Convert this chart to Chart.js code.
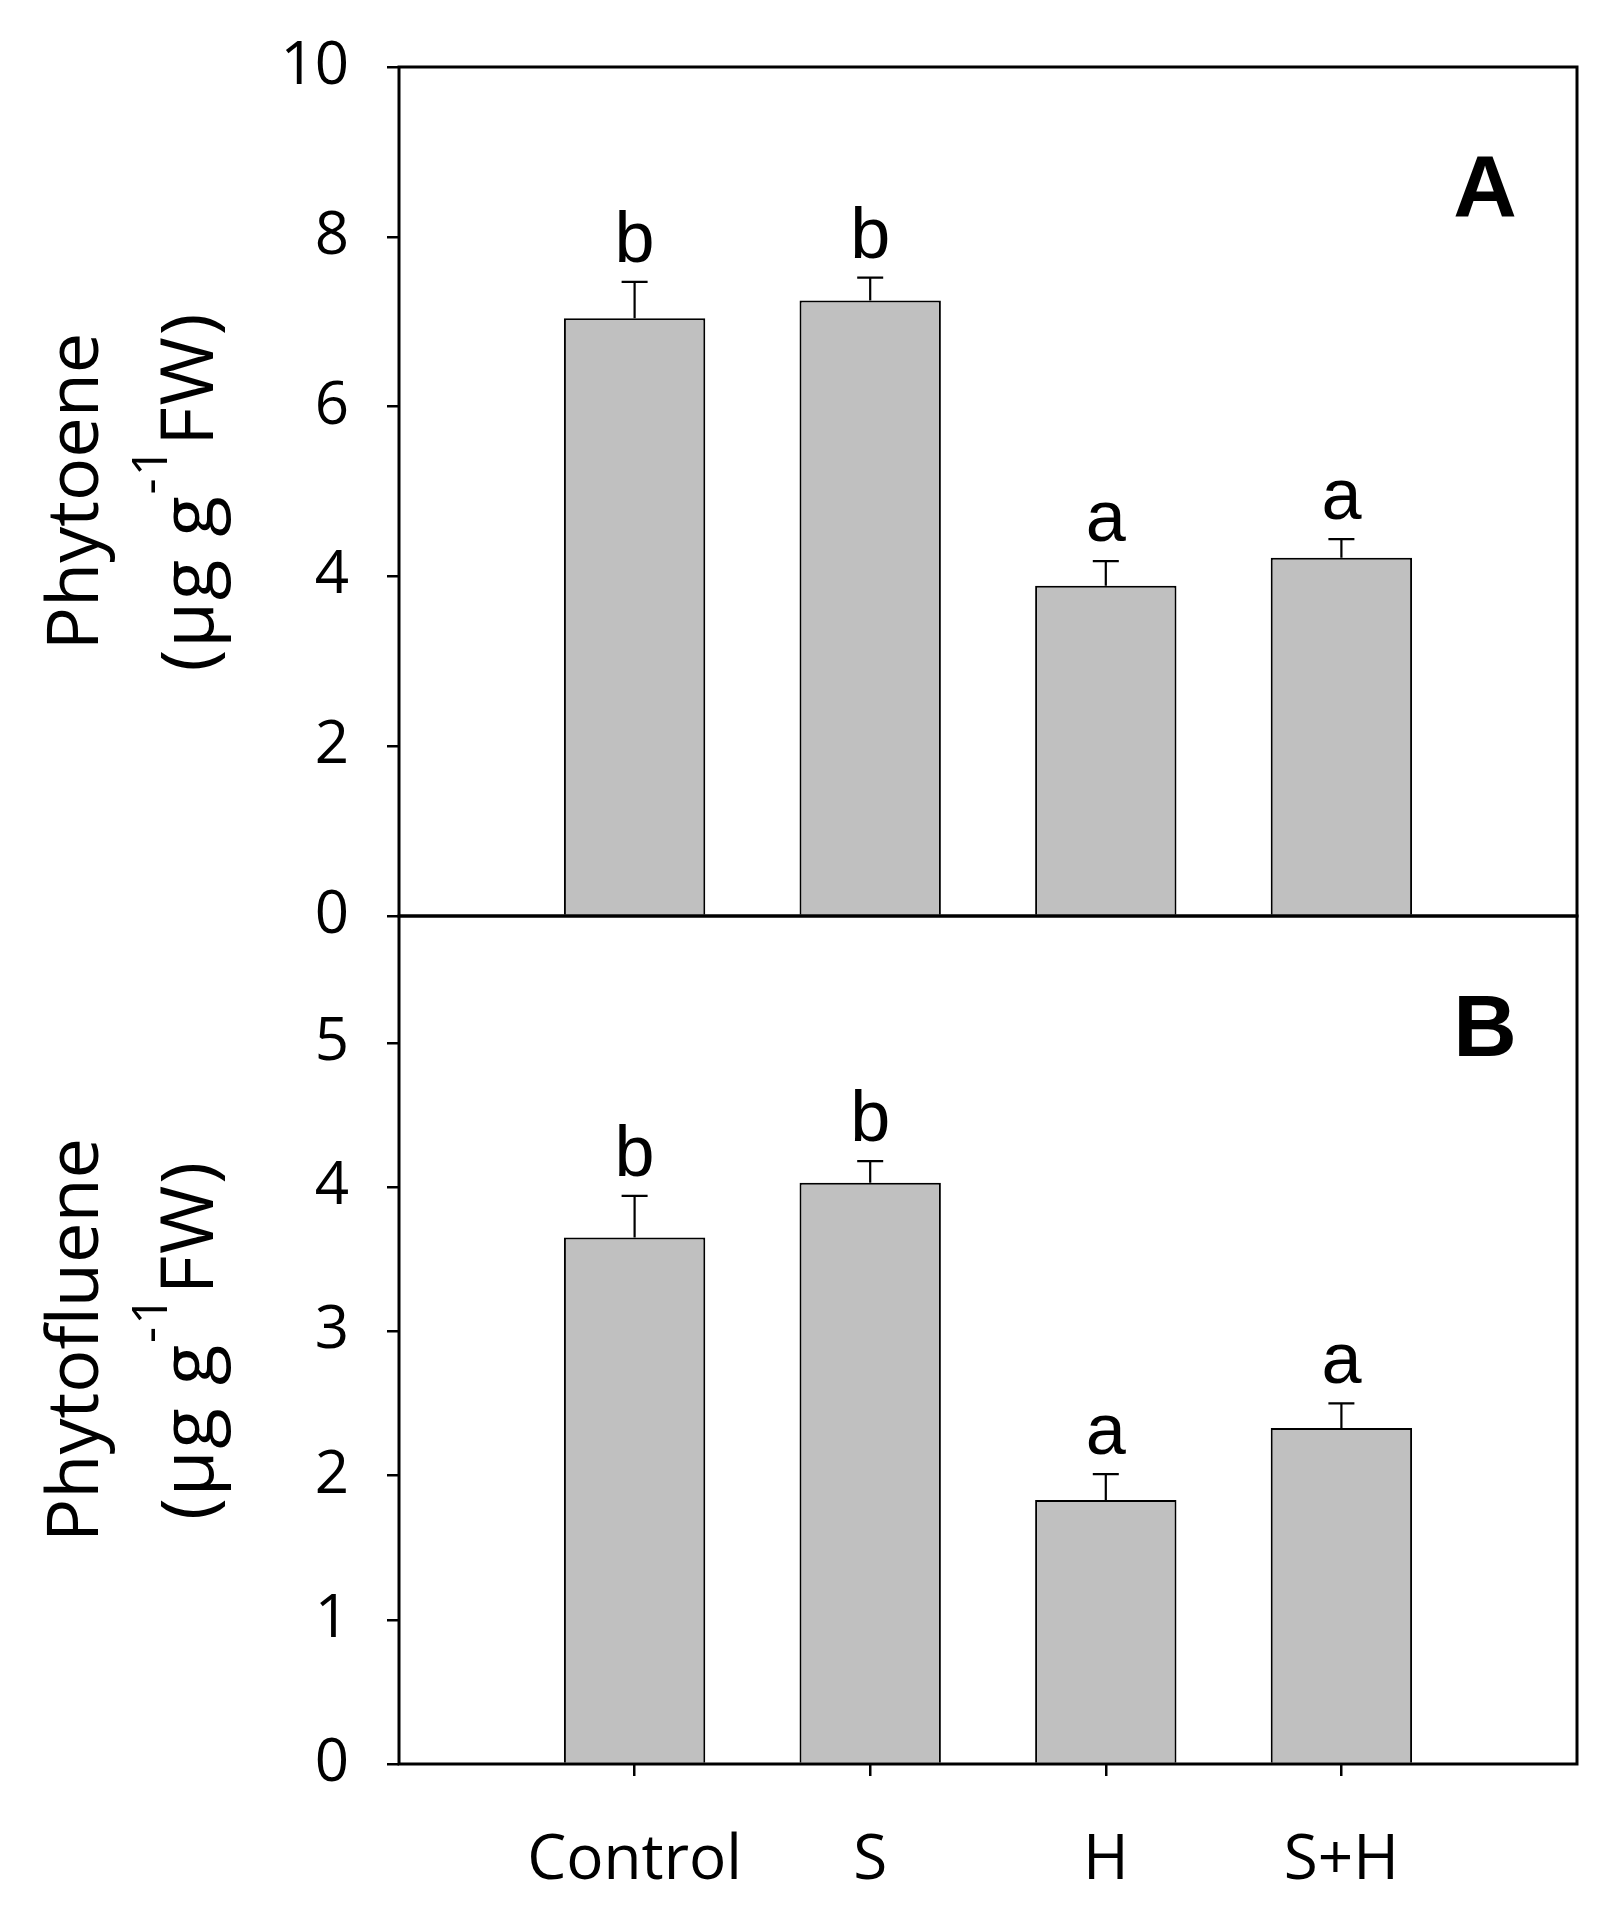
<!DOCTYPE html>
<html>
<head>
<meta charset="utf-8">
<script src="https://cdn.jsdelivr.net/npm/chart.js@4.4.0/dist/chart.umd.min.js"></script>
<style>
  html, body { margin: 0; padding: 0; background: #fff; }
  #wrap { position: relative; width: 1622px; height: 1925px; }
  #wrap canvas { position: absolute; left: 0; top: 0; }
</style>
</head>
<body>
<div id="wrap">
  <canvas id="chartA" width="1622" height="1925"></canvas>
  <canvas id="chartB" width="1622" height="1925"></canvas>
</div>
<script>
// data
var categories = ['Control', 'S', 'H', 'S+H'];
var phytoene = [7.04, 7.25, 3.89, 4.22];
var phytoeneErr = [0.43, 0.27, 0.29, 0.22];
var phytoeneLetters = ['b', 'b', 'a', 'a'];
var phytofluene = [3.65, 4.03, 1.83, 2.33];
var phytoflueneErr = [0.29, 0.15, 0.18, 0.17];
var phytoflueneLetters = ['b', 'b', 'a', 'a'];
var yMaxA = 10, yStepA = 2;
var yMaxB = 5.88, yStepB = 1;

// frame geometry
var W = 1622, H = 1925;
var PLOT_LEFT = 399, PLOT_RIGHT = 1577;
var A_TOP = 67, MID = 916, B_BOTTOM = 1764;

Chart.defaults.font.family = "'Open Sans', sans-serif";
Chart.defaults.color = '#000';

// empty slots on both ends so the bars sit where the original puts them
var xLabels = [''].concat(categories, ['']);
function pad(arr) { return [null].concat(arr, [null]); }

function drawYTitle(ctx, name, cy) {
  ctx.save();
  ctx.fillStyle = '#000';
  ctx.textBaseline = 'alphabetic';

  ctx.save();
  ctx.translate(98, cy);
  ctx.rotate(-Math.PI / 2);
  ctx.font = "72px 'Open Sans'";
  ctx.textAlign = 'center';
  ctx.fillText(name, 0, 0);
  ctx.restore();

  var parts = [
    { t: '(\u03bcg g', size: 74, rise: 0 },
    { t: '-1', size: 50, rise: 46 },
    { t: 'FW)', size: 74, rise: 0 }
  ];
  ctx.letterSpacing = '2px';
  var total = 0;
  parts.forEach(function (p) {
    ctx.font = p.size + "px 'Open Sans'";
    p.w = ctx.measureText(p.t).width;
    total += p.w;
  });
  ctx.save();
  ctx.translate(213, cy);
  ctx.rotate(-Math.PI / 2);
  ctx.textAlign = 'left';
  var x = -total / 2;
  parts.forEach(function (p) {
    ctx.font = p.size + "px 'Open Sans'";
    ctx.fillText(p.t, x, -p.rise);
    x += p.w;
  });
  ctx.restore();
  ctx.letterSpacing = '0px';
  ctx.restore();
}

function panelPlugin(opts) {
  return {
    id: 'panelExtras',
    afterDatasetsDraw: function (chart) {
      var ctx = chart.ctx;
      var area = chart.chartArea;
      var y = chart.scales.y;
      var meta = chart.getDatasetMeta(0);

      ctx.save();
      // error bars (upper half only) and significance letters
      ctx.strokeStyle = '#000';
      ctx.lineWidth = 2.2;
      ctx.fillStyle = '#000';
      ctx.font = "72px 'Liberation Sans', Arial, sans-serif";
      ctx.textAlign = 'center';
      ctx.textBaseline = 'alphabetic';
      opts.values.forEach(function (v, i) {
        var bar = meta.data[i + 1];
        var top = y.getPixelForValue(v);
        var cap = y.getPixelForValue(v + opts.errors[i]);
        ctx.beginPath();
        ctx.moveTo(bar.x, top);
        ctx.lineTo(bar.x, cap);
        ctx.moveTo(bar.x - 13, cap);
        ctx.lineTo(bar.x + 13, cap);
        ctx.stroke();
        ctx.fillText(opts.letters[i], bar.x, cap - 20);
      });

      // box around the panel
      ctx.lineWidth = 3;
      ctx.strokeRect(area.left, area.top, area.right - area.left, area.bottom - area.top);

      // panel letter
      ctx.font = "bold 88px 'Liberation Sans', Arial, sans-serif";
      ctx.fillText(opts.panel, 1485, opts.panelY);
      ctx.restore();

      drawYTitle(ctx, opts.title, (area.top + area.bottom) / 2);
    }
  };
}

function tickColor(c) {
  return (c.index === 0 || c.index === xLabels.length - 1) ? 'rgba(0,0,0,0)' : '#000';
}

function makeChart(id, values, errors, letters, opts) {
  return new Chart(document.getElementById(id), {
    type: 'bar',
    data: {
      labels: xLabels,
      datasets: [{
        data: pad(values),
        backgroundColor: '#c0c0c0',
        borderColor: '#000',
        borderWidth: 2,
        categoryPercentage: 1,
        barPercentage: 0.6
      }]
    },
    options: {
      responsive: false,
      animation: false,
      events: [],
      layout: { padding: { left: 0, right: W - PLOT_RIGHT, top: opts.top, bottom: 0 } },
      plugins: { legend: { display: false }, tooltip: { enabled: false } },
      scales: {
        x: {
          type: 'category',
          offset: false,
          border: { display: false },
          grid: {
            display: opts.showX,
            offset: false,
            drawOnChartArea: false,
            drawTicks: true,
            tickLength: 12,
            lineWidth: 2.5,
            color: tickColor
          },
          ticks: {
            display: opts.showX,
            padding: 48,
            autoSkip: false,
            maxRotation: 0,
            color: '#000',
            font: { size: 62 }
          },
          afterFit: function (s) {
            s.height = H - opts.bottom;
            s.paddingLeft = 0;
            s.paddingRight = 0;
          }
        },
        y: {
          min: 0,
          max: opts.yMax,
          border: { display: false },
          grid: {
            drawOnChartArea: false,
            drawTicks: true,
            tickLength: 12,
            lineWidth: 2.5,
            color: '#000'
          },
          ticks: {
            stepSize: opts.yStep,
            includeBounds: false,
            padding: 38,
            color: '#000',
            font: { size: 60 }
          },
          afterFit: function (s) {
            s.width = PLOT_LEFT;
            s.paddingTop = 0;
            s.paddingBottom = 0;
          }
        }
      }
    },
    plugins: [panelPlugin({
      values: values, errors: errors, letters: letters,
      panel: opts.panel, panelY: opts.panelY, title: opts.title
    })]
  });
}

makeChart('chartA', phytoene, phytoeneErr, phytoeneLetters, {
  top: A_TOP, bottom: MID, yMax: yMaxA, yStep: yStepA, showX: false,
  panel: 'A', panelY: 216, title: 'Phytoene'
});
makeChart('chartB', phytofluene, phytoflueneErr, phytoflueneLetters, {
  top: MID, bottom: B_BOTTOM, yMax: yMaxB, yStep: yStepB, showX: true,
  panel: 'B', panelY: 1056, title: 'Phytofluene'
});
</script>
</body>
</html>
